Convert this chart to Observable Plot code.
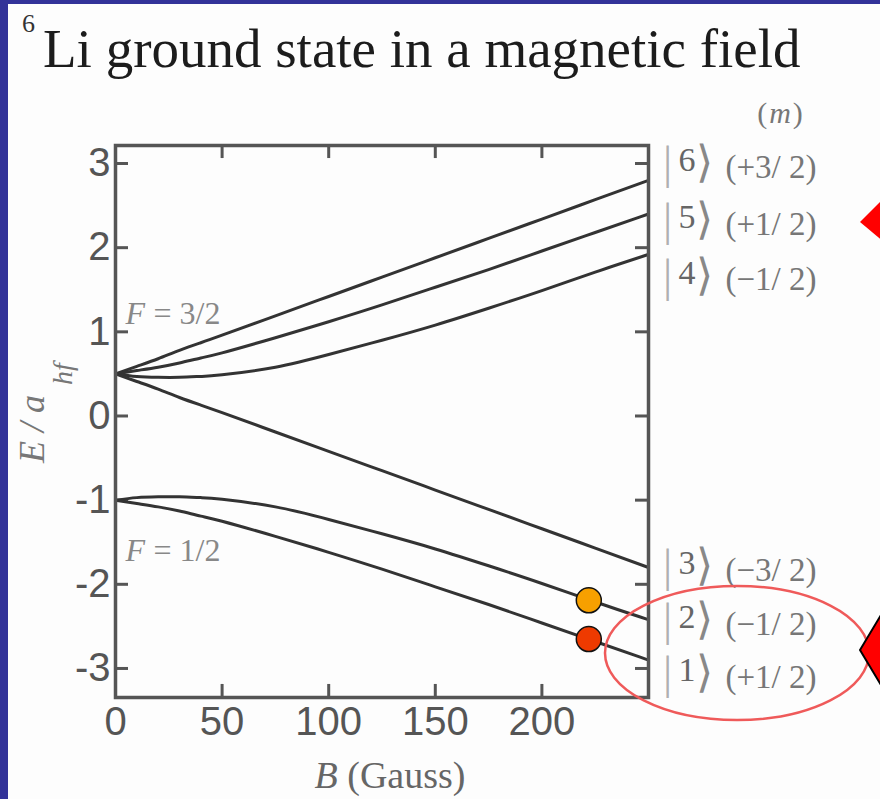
<!DOCTYPE html>
<html>
<head>
<meta charset="utf-8">
<script src="https://cdn.jsdelivr.net/npm/d3@7"></script>
<script src="https://cdn.jsdelivr.net/npm/@observablehq/plot@0.6"></script>
<style>
  html, body { margin: 0; padding: 0; background: #333399; overflow: hidden; }
  #wrap { position: relative; width: 880px; height: 799px; overflow: hidden; }
  #panel { position: absolute; left: 8px; top: 4px; right: 0; bottom: 0; background: #fdfdfd; }
  #sup { position: absolute; left: 22px; top: 11px; font: 26px/26px "Liberation Serif", serif; color: #333; }
  #title { position: absolute; left: 43px; top: 21px; font: 55px/55px "Liberation Serif", serif; color: #1c1c1c; white-space: nowrap; }
  #chart { position: absolute; left: 0; top: 90px; }
  g[aria-label="m-labels"] text { letter-spacing: 4px; }
</style>
</head>
<body>
<div id="wrap">
  <div id="panel"></div>
  <div id="sup">6</div>
  <div id="title">Li ground state in a magnetic field</div>
  <div id="chart"></div>
</div>
<script>
// ---- data ----
const fieldB = [0, 10, 20, 30, 40, 50, 75, 100, 125, 150, 175, 200, 225, 250];
const energy6 = [0.50, 0.59, 0.68, 0.78, 0.87, 0.96, 1.19, 1.42, 1.65, 1.88, 2.11, 2.34, 2.57, 2.80];
const energy5 = [0.50, 0.54, 0.58, 0.63, 0.69, 0.75, 0.93, 1.12, 1.32, 1.53, 1.74, 1.96, 2.18, 2.40];
const energy4 = [0.50, 0.47, 0.46, 0.46, 0.47, 0.49, 0.58, 0.73, 0.90, 1.08, 1.28, 1.49, 1.71, 1.92];
const energy3 = [0.50, 0.41, 0.32, 0.22, 0.13, 0.04, -0.19, -0.42, -0.65, -0.88, -1.11, -1.34, -1.57, -1.80];
const energy2 = [-1.00, -0.97, -0.96, -0.96, -0.97, -0.99, -1.08, -1.23, -1.40, -1.58, -1.78, -1.99, -2.21, -2.42];
const energy1 = [-1.00, -1.04, -1.08, -1.13, -1.19, -1.25, -1.43, -1.62, -1.82, -2.03, -2.24, -2.46, -2.68, -2.90];

const stateKets = ["6", "5", "4", "3", "2", "1"];
const stateM = ["(+3/ 2)", "(+1/ 2)", "(\u22121/ 2)", "(\u22123/ 2)", "(\u22121/ 2)", "(+1/ 2)"];

const dotB = [222, 222];
const dotE = [-2.19, -2.65];
const dotColor = ["#f7a000", "#ee3a00"];

const fLabels = ["3/2", "1/2"];

const xTicks = [0, 50, 100, 150, 200];
const yTicks = [-3, -2, -1, 0, 1, 2, 3];

// ---- layout ----
const xDomain = [0, 250];
const yDomain = [-3.345, 3.214];
const labelY = [3.04, 2.36, 1.70, -1.75, -2.39, -3.02];
const fLabelY = [1.22, -1.60];

const series = [energy6, energy5, energy4, energy3, energy2, energy1];
const rows = [];
series.forEach((arr, s) => arr.forEach((e, i) => rows.push({state: stateKets[s], B: fieldB[i], E: e})));
const labels = stateKets.map((k, i) => ({ket: k, m: stateM[i], y: labelY[i]}));
const dots = dotB.map((b, i) => ({B: b, E: dotE[i], color: dotColor[i]}));

const tickLenX = 6.1, tickLenY = 0.155;
const serif = "Liberation Serif";

const chart = Plot.plot({
  width: 880,
  height: 709,
  marginLeft: 115,
  marginRight: 232,
  marginTop: 55,
  marginBottom: 102,
  style: {background: "transparent", fontFamily: "Liberation Sans", fontSize: "40px", color: "#555", overflow: "visible"},
  x: {domain: xDomain, ticks: xTicks, tickSize: 0, tickPadding: 9, label: null},
  y: {domain: yDomain, ticks: yTicks, tickSize: 0, tickPadding: 5, label: null,
      tickFormat: d => (d < 0 ? "-" + Math.abs(d) : String(d))},
  marks: [
    // inward ticks
    Plot.ruleX(xTicks, {x: d => d, y1: yDomain[0], y2: yDomain[0] + tickLenY, stroke: "#555", strokeWidth: 3}),
    Plot.ruleX(xTicks, {x: d => d, y1: yDomain[1], y2: yDomain[1] - tickLenY, stroke: "#555", strokeWidth: 3}),
    Plot.ruleY(yTicks, {y: d => d, x1: xDomain[0], x2: xDomain[0] + tickLenX, stroke: "#555", strokeWidth: 3}),
    Plot.ruleY(yTicks, {y: d => d, x1: xDomain[1], x2: xDomain[1] - tickLenX, stroke: "#555", strokeWidth: 3}),
    Plot.line(rows, {x: "B", y: "E", z: "state", stroke: "#333", strokeWidth: 3, curve: "natural"}),
    Plot.frame({stroke: "#555", strokeWidth: 3.5}),
    ...dots.map(d => Plot.dot([d], {x: "B", y: "E", r: 12.5, fill: d.color, stroke: "#111", strokeWidth: 1.5})),
    // F labels
    Plot.text(fLabels, {y: (d, i) => fLabelY[i], frameAnchor: "left", dx: 10, text: () => "F", textAnchor: "start",
      fontFamily: serif, fontStyle: "italic", fontSize: 32, fill: "#888"}),
    Plot.text(fLabels, {y: (d, i) => fLabelY[i], frameAnchor: "left", dx: 38, text: d => "= " + d, textAnchor: "start",
      fontFamily: serif, fontSize: 32, fill: "#888"}),
    // state labels
    Plot.text(labels, {y: "y", frameAnchor: "right", dx: 19, dy: 3, text: () => "|", textAnchor: "middle",
      fontFamily: serif, fontSize: 46, fill: "#b0b0b0"}),
    Plot.text(labels, {y: "y", frameAnchor: "right", dx: 30, text: "ket", textAnchor: "start",
      fontFamily: serif, fontSize: 34, fill: "#666"}),
    Plot.text(labels, {y: "y", frameAnchor: "right", dx: 56, dy: 3, text: () => "\u27E9", textAnchor: "middle",
      fontFamily: serif, fontSize: 44, fill: "#888"}),
    Plot.text(labels, {y: "y", frameAnchor: "right", dx: 77, dy: 7, text: "m", textAnchor: "start",
      fontFamily: serif, fontSize: 33, fill: "#777", ariaLabel: "m-labels"})
  ]
});

document.getElementById("chart").appendChild(chart);

const svg = d3.select(chart);
// y-axis title
const yt = svg.append("text")
  .attr("transform", "translate(44,373) rotate(-90)").attr("text-anchor", "start")
  .attr("font-family", serif).attr("font-style", "italic").attr("fill", "#777");
yt.append("tspan").attr("font-size", 36).text("E / a");
yt.append("tspan").attr("font-size", 28).attr("dx", 10).attr("dy", 28).text("hf");

// x-axis title
const xt = svg.append("text")
  .attr("x", 390).attr("y", 698).attr("text-anchor", "middle")
  .attr("font-family", serif).attr("font-size", 38).attr("fill", "#666");
xt.append("tspan").attr("font-style", "italic").text("B");
xt.append("tspan").text(" (Gauss)");

// (m) header
const mt = svg.append("text")
  .attr("x", 781).attr("y", 33).attr("text-anchor", "middle")
  .attr("font-family", serif).attr("font-size", 30).attr("fill", "#777").attr("letter-spacing", 2);
mt.append("tspan").text("(");
mt.append("tspan").attr("font-style", "italic").text("m");
mt.append("tspan").text(")");

// highlight ellipse and arrows
svg.append("ellipse").attr("cx", 737).attr("cy", 563).attr("rx", 132).attr("ry", 67)
  .attr("fill", "none").attr("stroke", "#ef5a5a").attr("stroke-width", 2.5);
svg.append("polygon").attr("points", "860,132 884,108 884,152").attr("fill", "#ff0000");
svg.append("polygon").attr("points", "860,560 884,520 884,600").attr("fill", "#ff0000")
  .attr("stroke", "#000").attr("stroke-width", 2);
</script>
</body>
</html>
